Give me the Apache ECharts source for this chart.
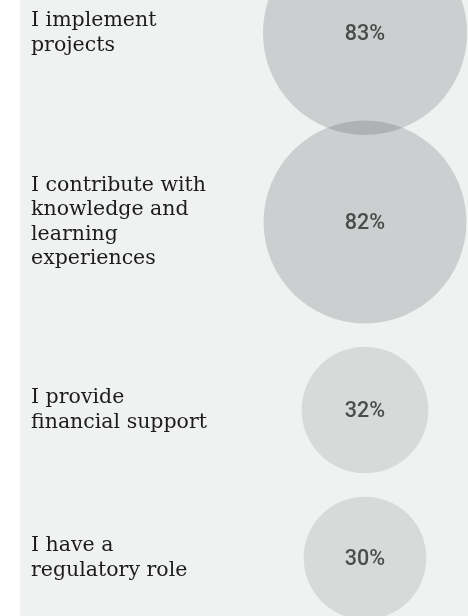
<!DOCTYPE html>
<html>
<head>
<meta charset="utf-8">
<script src="https://cdn.jsdelivr.net/npm/echarts@6/dist/echarts.min.js"></script>
<style>
  html, body { margin: 0; padding: 0; background: #ffffff; }
  #chart { width: 468px; height: 616px; }
</style>
</head>
<body>
<div id="chart"></div>
<script>
// Roles reported by respondents and the share choosing each one (%)
const categories = [
  'I implement\nprojects',
  'I contribute with\nknowledge and\nlearning\nexperiences',
  'I provide\nfinancial support',
  'I have a\nregulatory role'
];
const shares = [83, 82, 32, 30];

// Layout of the rows (vertical centre of each row, px) and the bubble column
const rowCenters = [33, 222, 410, 558];
const bubbleColLeft = 262;
const textLeft = 31;
const rowBand = 20;

// Bubble area grows with the share
const bubbleDiameter = v => 22.4 * Math.sqrt(v);

const chart = echarts.init(document.getElementById('chart'), null, { renderer: 'canvas' });

const grids = [], xAxes = [], yAxes = [], series = [];
categories.forEach((cat, i) => {
  grids.push({ left: bubbleColLeft, right: 0, top: rowCenters[i] - rowBand / 2, height: rowBand });
  xAxes.push({ type: 'category', gridIndex: i, data: ['share'], show: false });
  yAxes.push({
    type: 'category', gridIndex: i, data: [cat],
    axisLine: { show: false }, axisTick: { show: false }, splitLine: { show: false },
    axisLabel: {
      align: 'left', margin: bubbleColLeft - textLeft,
      fontFamily: 'DejaVu Serif', fontSize: 20.5, lineHeight: 24.5, color: '#1c1c1c'
    }
  });
  series.push({
    type: 'scatter', xAxisIndex: i, yAxisIndex: i, clip: false, silent: true,
    data: [['share', cat, shares[i]]],
    symbolSize: v => bubbleDiameter(v[2]),
    itemStyle: { color: shares[i] > 50 ? 'rgba(20,28,32,0.2)' : 'rgba(20,28,32,0.135)' },
    label: {
      show: true, position: 'inside', offset: [0, 1.5],
      formatter: p => p.value[2] + '%',
      fontFamily: 'Roboto', fontWeight: 500, fontSize: 21.5, color: '#282828'
    }
  });
});

chart.setOption({
  animation: false,
  backgroundColor: '#ffffff',
  graphic: [{
    type: 'rect', z: -10, silent: true,
    shape: { x: 20, y: 0, width: 448, height: 616 },
    style: { fill: '#f0f1f1' }
  }],
  grid: grids,
  xAxis: xAxes,
  yAxis: yAxes,
  series: series
});
</script>
</body>
</html>
